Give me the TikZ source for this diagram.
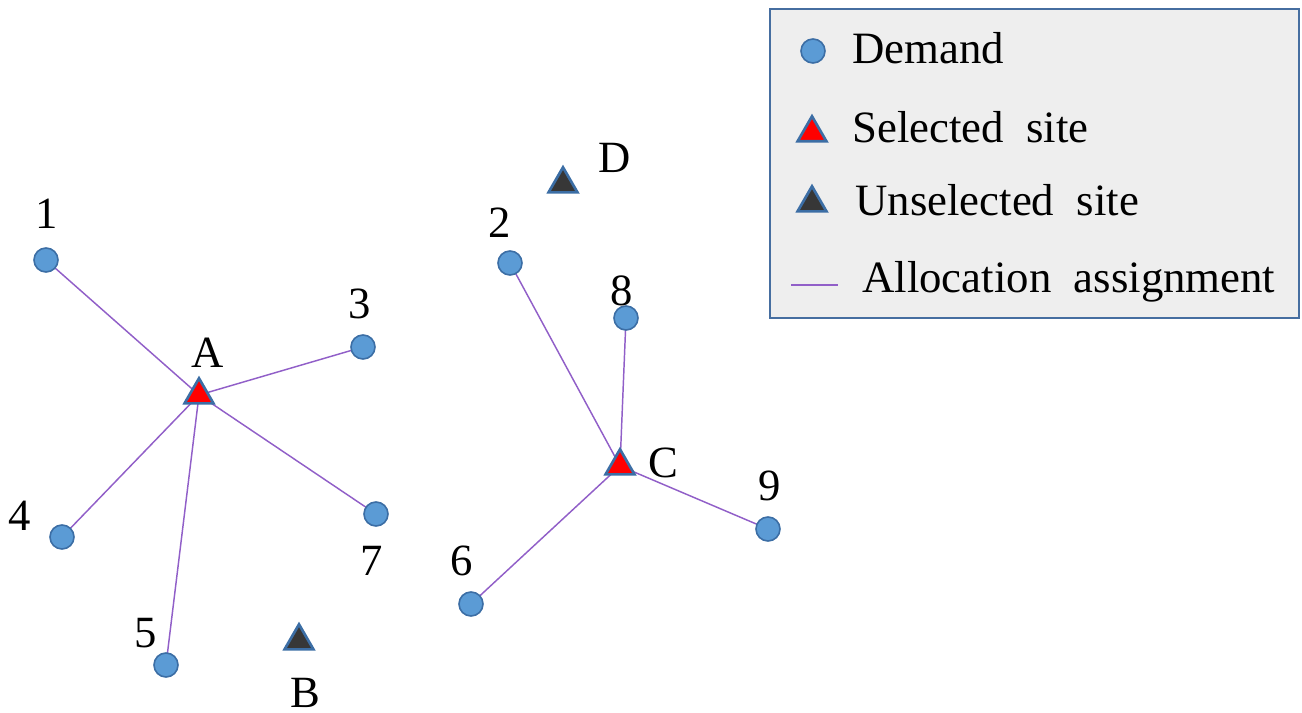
\documentclass[tikz,border=0pt]{standalone}
\usepackage{fontspec}
\setmainfont{Liberation Serif}
\usetikzlibrary{shapes.geometric,backgrounds}
\definecolor{dem}{RGB}{91,155,213}
\definecolor{demb}{RGB}{60,110,165}
\definecolor{alloc}{RGB}{145,95,200}
\definecolor{lgfill}{RGB}{238,238,238}
\definecolor{lgborder}{RGB}{70,110,160}
\definecolor{unsel}{RGB}{55,55,55}
\newcommand{\mylgfont}{\fontsize{33.6}{40}\selectfont\spaceskip=0.5em\relax}
\tikzset{
  demand/.style={circle,fill=dem,draw=demb,line width=1.2pt,minimum size=18pt,inner sep=0pt},
  site/.style={regular polygon,regular polygon sides=3,draw=demb,line width=2pt,minimum size=25pt,inner sep=0pt},
  selsite/.style={site,fill=red},
  unselsite/.style={site,fill=unsel},
  lbl/.style={font=\fontsize{33.5}{40}\selectfont,anchor=base,inner sep=0pt},
  lgtext/.style={font=\mylgfont,anchor=base west,inner sep=0pt},
  link/.style={alloc,line width=1.1pt}
}
\begin{document}
\begin{tikzpicture}[x=0.75pt,y=-0.75pt]
\useasboundingbox (0,0) rectangle (1302,713);
% legend box
\node[draw=lgborder,fill=lgfill,line width=1.5pt,minimum width=397pt,minimum height=232pt,inner sep=0pt,anchor=north west] (legend) at (769,8) {};
\node[demand] (lg1) at (813,51) {};
\node[lgtext] (lt1) at (852,64) {Demand};
\node[selsite] (lg2) at (812,133) {};
\node[lgtext] (lt2) at (852,143) {Selected site};
\node[unselsite] (lg3) at (812,203) {};
\node[lgtext] (lt3) at (855,215) {Unselected site};
\coordinate (lgl1) at (791,285);
\coordinate (lgl2) at (838,285);
\draw[link] (lgl1) -- (lgl2);
\node[lgtext] (lt4) at (862,292) {Allocation assignment};
% demand points
\node[demand] (n1) at (46,260) {};
\node[demand] (n2) at (510,263) {};
\node[demand] (n3) at (363,347) {};
\node[demand] (n4) at (62,537) {};
\node[demand] (n5) at (166,665) {};
\node[demand] (n6) at (471,604) {};
\node[demand] (n7) at (376,514) {};
\node[demand] (n8) at (626,318) {};
\node[demand] (n9) at (768,529) {};
% sites
\node[selsite] (A) at (199,395) {};
\node[selsite] (C) at (620,466) {};
\node[unselsite] (D) at (563,184) {};
\node[unselsite] (B) at (299,641) {};
% labels
\node[lbl] (l1) at (47,228) {1};
\node[lbl] (l2) at (500,237) {2};
\node[lbl] (l3) at (360,318) {3};
\node[lbl] (l4) at (20,530) {4};
\node[lbl] (l5) at (146,647) {5};
\node[lbl] (l6) at (462,575) {6};
\node[lbl] (l7) at (372,575) {7};
\node[lbl] (l8) at (622,305) {8};
\node[lbl] (l9) at (770,500) {9};
\node[lbl] (lA) at (208,367) {A};
\node[lbl] (lB) at (305,707) {B};
\node[lbl] (lC) at (663,477) {C};
\node[lbl] (lD) at (615,172) {D};
% allocation links
\begin{pgfonlayer}{background}
\draw[link] (A.center) -- (n1.center);
\draw[link] (A.center) -- (n3.center);
\draw[link] (A.center) -- (n4.center);
\draw[link] (A.center) -- (n5.center);
\draw[link] (A.center) -- (n7.center);
\draw[link] (C.center) -- (n2.center);
\draw[link] (C.center) -- (n8.center);
\draw[link] (C.center) -- (n6.center);
\draw[link] (C.center) -- (n9.center);
\end{pgfonlayer}
\end{tikzpicture}
\end{document}
